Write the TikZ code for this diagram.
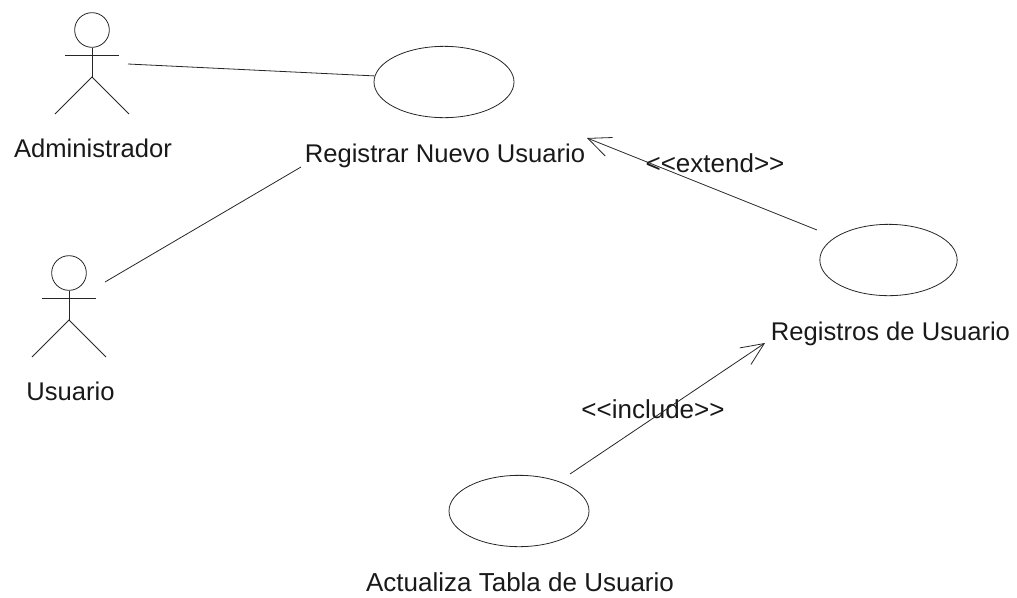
\documentclass[tikz,border=0pt]{standalone}
\usepackage{fontspec}
\setmainfont{Liberation Sans}
\usetikzlibrary{arrows.meta,shapes.geometric}
\tikzset{
  usecase/.style={draw=black!85,ellipse,minimum width=105pt,minimum height=53.5pt,inner sep=0pt,line width=0.6pt},
  lbl/.style={font=\fontsize{#1}{22}\selectfont,inner sep=0pt,text=black!90,anchor=base},
  lbl/.default=19.2,
  conn/.style={draw=black!85,line width=0.6pt},
  open/.style={conn,-{Straight Barb[length=17pt,width=15pt]}},
  limb/.style={draw=black!85,line width=0.6pt}
}
\newcommand{\actor}[3]{%
  \node[draw=black!85,circle,minimum size=26pt,inner sep=0pt,line width=0.6pt] (#1head) at (#2,#3) {};
  \coordinate (#1hip) at (#2,#3+47);
  \coordinate (#1la) at (#2-27,#3+25);
  \coordinate (#1ra) at (#2+27,#3+25);
  \coordinate (#1ll) at (#2-37,#3+84);
  \coordinate (#1rl) at (#2+37,#3+84);
  \draw[limb] (#1head.south) -- (#1hip);
  \draw[limb] (#1la) -- (#1ra);
  \draw[limb] (#1ll) -- (#1hip) -- (#1rl);
}
\begin{document}
\begin{tikzpicture}[x=0.75pt,y=-0.75pt]
\useasboundingbox (0,0) rectangle (1017,597);
\actor{a}{92}{30}
\actor{u}{69}{273}
\node[usecase] (uc1) at (444,82) {};
\node[usecase,minimum width=103pt] (uc2) at (888.5,260) {};
\node[usecase] (uc3) at (519,511) {};
\node[lbl] (ladm) at (93,157) {Administrador};
\node[lbl] (lusu) at (70.5,400) {Usuario};
\node[lbl] (lreg) at (445,162) {Registrar Nuevo Usuario};
\node[lbl] (lrgu) at (890.5,340) {Registros de Usuario};
\node[lbl=19.5] (lact) at (520,591) {Actualiza Tabla de Usuario};
\node[lbl=19.5] (lext) at (715,172) {<{}<extend>{}>};
\node[lbl=19.5] (linc) at (653,418) {<{}<include>{}>};
\coordinate (p1) at (128,64);
\coordinate (p2) at (105,282);
\coordinate (p3) at (301,167);
\coordinate (p4) at (817,230);
\coordinate (p5) at (570,474);
\coordinate (t1) at (587,138);
\coordinate (t2) at (765,343);
\draw[conn] (p1) -- (uc1.175);
\draw[conn] (p2) -- (p3);
\draw[open] (p4) -- (t1);
\draw[open] (p5) -- (t2);
\end{tikzpicture}
\end{document}
